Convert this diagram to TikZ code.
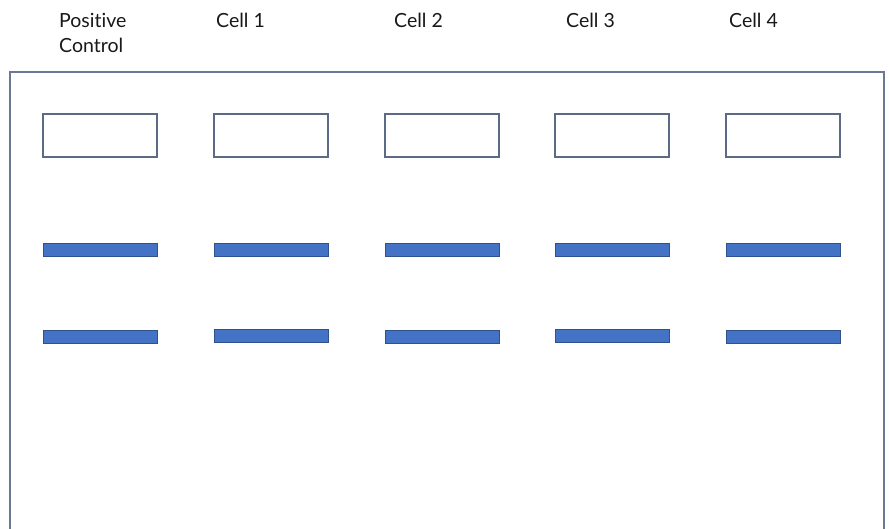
\documentclass[tikz,border=0pt]{standalone}
\usepackage{fontspec}
\setmainfont{Lato}[Ligatures={NoCommon}]
\definecolor{framecol}{HTML}{6B7A94}
\definecolor{wellcol}{HTML}{5B6B85}
\definecolor{bandfill}{HTML}{4472C4}
\definecolor{banddraw}{HTML}{2F528F}
\begin{document}
\begin{tikzpicture}[x=1pt,y=-1pt,
  lbl/.style={anchor=base west,inner sep=0pt,font=\fontsize{19.5}{25}\selectfont,text=black!90},
  wellbox/.style={draw=wellcol,line width=1.2pt,fill=white,minimum width=114pt,minimum height=43pt,inner sep=0pt},
  bandbox/.style={draw=banddraw,line width=0.8pt,fill=bandfill,minimum width=114pt,minimum height=13pt,inner sep=0pt},
  framestyle/.style={draw=framecol,line width=1.2pt}]
\useasboundingbox (0,0) rectangle (889,529);
\fill[white] (0,0) rectangle (889,529);
% frame (open at bottom)
\coordinate (fbl) at (10,535);
\coordinate (ftl) at (10,72);
\coordinate (ftr) at (884,72);
\coordinate (fbr) at (884,535);
\draw[framestyle] (fbl) -- (ftl) -- (ftr) -- (fbr);
% labels
\node[lbl] (lpc1) at (59,28) {Positive};
\node[lbl] (lpc2) at (59,53) {Control};
\node[lbl] (lc1) at (216,28) {Cell 1};
\node[lbl] (lc2) at (394,28) {Cell 2};
\node[lbl] (lc3) at (566,28) {Cell 3};
\node[lbl] (lc4) at (729,28) {Cell 4};
% wells
\node[wellbox] (w0) at (100,135.5) {};
\node[wellbox] (w1) at (271,135.5) {};
\node[wellbox] (w2) at (442,135.5) {};
\node[wellbox] (w3) at (612,135.5) {};
\node[wellbox] (w4) at (783,135.5) {};
% bands row 1
\node[bandbox] (a0) at (100.5,250) {};
\node[bandbox] (a1) at (271,250) {};
\node[bandbox] (a2) at (442,250) {};
\node[bandbox] (a3) at (612.5,250.2) {};
\node[bandbox] (a4) at (783,250) {};
% bands row 2
\node[bandbox] (b0) at (100.5,336.6) {};
\node[bandbox] (b1) at (271,335.8) {};
\node[bandbox] (b2) at (442,336.6) {};
\node[bandbox] (b3) at (612.5,335.9) {};
\node[bandbox] (b4) at (783.7,337) {};
\end{tikzpicture}
\end{document}
